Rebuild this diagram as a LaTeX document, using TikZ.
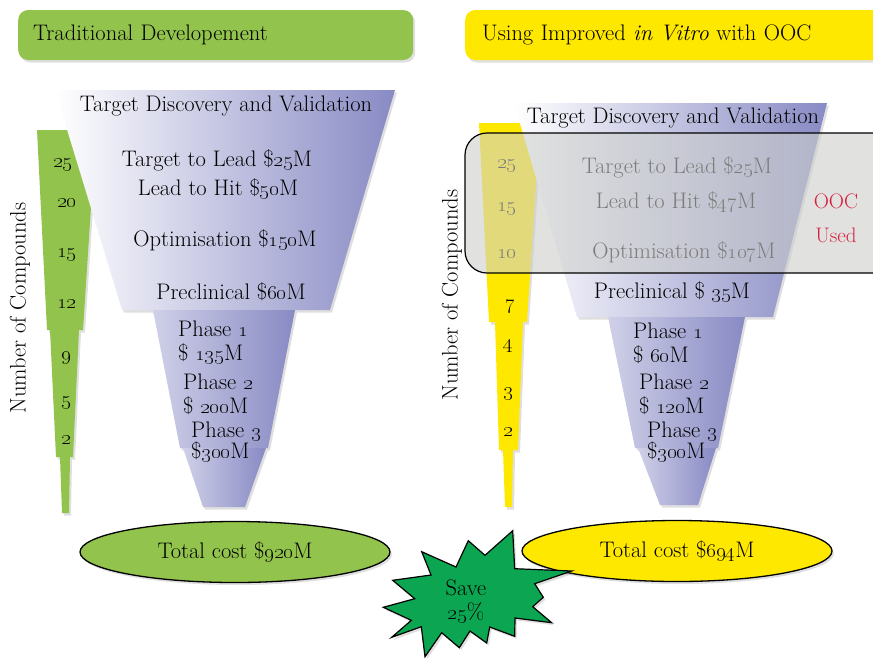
\documentclass[tikz,border=0pt]{standalone}
\usepackage{tikz}
\usetikzlibrary{shapes,shadows,positioning}
\definecolor{leafgreen}{RGB}{146,195,76}
\definecolor{brightyellow}{RGB}{255,232,0}
\definecolor{funnelblue}{RGB}{136,138,196}
\definecolor{stargreen}{RGB}{12,166,82}
\definecolor{oocred}{RGB}{214,32,64}
\definecolor{boxgray}{RGB}{205,207,204}

\begin{document}
\begin{tikzpicture}[x=1pt,y=-1pt]
    % Define styles
    \tikzstyle{softshadow} = [drop shadow={shadow xshift=2pt, shadow yshift=-2.5pt, opacity=0.25}]
    \tikzstyle{header} = [rectangle, rounded corners=10pt, minimum height=50pt, inner xsep=15pt, align=left, anchor=west, font=\fontsize{22.5}{26}\selectfont, softshadow]
    \tikzstyle{txt} = [font=\fontsize{22.5}{24}\selectfont, inner sep=0pt]
    \tikzstyle{count} = [font=\fontsize{20.74}{24}\selectfont, inner sep=0pt]
    \tikzstyle{bar} = [softshadow]
    \tikzstyle{funnel} = [right color=funnelblue, softshadow]
    \tikzstyle{total} = [ellipse, draw, line width=1.3pt, minimum width=310pt, minimum height=61pt, font=\fontsize{22.5}{26}\selectfont, softshadow]
    \tikzstyle{burst} = [draw, line width=1.2pt, fill=stargreen, line join=miter, softshadow]

    \useasboundingbox (0,0) rectangle (873,657);
    \clip (0,0) rectangle (873,657);

    % Headers
    \node[header, fill=leafgreen, text width=365pt] (lefthead) at (18,35) {Traditional Developement};
    \node[header, fill=brightyellow, text width=440pt, inner xsep=17pt] (righthead) at (465,35) {Using Improved \textit{in Vitro} with OOC};

    % Compound bars
    \path[bar, fill=leafgreen] (37,130) -- (96,130) -- (83,330) -- (47,330) -- cycle;
    \path[bar, fill=leafgreen] (50,330) -- (79,330) -- (73,457) -- (56,457) -- cycle;
    \path[bar, fill=leafgreen] (60,457) -- (70,457) -- (69,513) -- (62,513) -- cycle;
    \path[bar, fill=brightyellow] (479,123) -- (540,123) -- (527,322) -- (489,322) -- cycle;
    \path[bar, fill=brightyellow] (495,322) -- (523,322) -- (518,450) -- (499,450) -- cycle;
    \path[bar, fill=brightyellow] (503,450) -- (513,450) -- (512,507) -- (505,507) -- cycle;

    % Funnels
    \path[funnel, left color=white] (55,90) -- (395,90) -- (330,310) -- (122,310) -- cycle;
    \path[funnel, left color=funnelblue!40] (153,310) -- (295,310) -- (268,448) -- (180,448) -- cycle;
    \path[funnel, left color=funnelblue!40] (183,448) -- (266,448) -- (245,507) -- (203,507) -- cycle;
    \path[funnel, left color=white] (514,103) -- (827,103) -- (773,317) -- (577,317) -- cycle;
    \path[funnel, left color=funnelblue!40] (608,317) -- (745,317) -- (718,448) -- (635,448) -- cycle;
    \path[funnel, left color=funnelblue!40] (638,448) -- (716,448) -- (698,505) -- (660,505) -- cycle;

    % Axis titles
    \node[txt, rotate=90] (leftaxis) at (20,308) {Number of Compounds};
    \node[txt, rotate=90] (rightaxis) at (452,295) {Number of Compounds};

    % Compound counts
    \node[count] (lc25) at (63,165) {\oldstylenums{25}};
    \node[count] (lc20) at (67,203) {\oldstylenums{20}};
    \node[count] (lc15) at (67,255) {\oldstylenums{15}};
    \node[count] (lc12) at (67,304) {\oldstylenums{12}};
    \node[count] (lc9) at (66,358) {\oldstylenums{9}};
    \node[count] (lc5) at (66,403) {\oldstylenums{5}};
    \node[count] (lc2) at (66,440) {\oldstylenums{2}};
    \node[count] (rc25) at (507,166) {\oldstylenums{25}};
    \node[count] (rc15) at (507,209) {\oldstylenums{15}};
    \node[count] (rc10) at (507,254) {\oldstylenums{10}};
    \node[count] (rc7) at (510,307) {\oldstylenums{7}};
    \node[count] (rc4) at (508,346) {\oldstylenums{4}};
    \node[count] (rc3) at (508,394) {\oldstylenums{3}};
    \node[count] (rc2) at (508,432) {\oldstylenums{2}};

    % Left stages
    \node[txt] (leftdisc) at (226,106) {Target Discovery and Validation};
    \node[txt] (leftlead) at (217,160) {Target to Lead \$\oldstylenums{25}M};
    \node[txt] (lefthit) at (218,189) {Lead to Hit \$\oldstylenums{50}M};
    \node[txt] (leftopt) at (225,240) {Optimisation \$\oldstylenums{150}M};
    \node[txt] (leftpre) at (231,292) {Preclinical \$\oldstylenums{60}M};
    \node[txt, anchor=west, align=left] (leftph1) at (178,343) {Phase \oldstylenums{1}\\\$ \oldstylenums{135}M};
    \node[txt, anchor=west, align=left] (leftph2) at (183,394) {Phase \oldstylenums{2}\\\$ \oldstylenums{200}M};
    \node[txt, anchor=west, align=left, font=\fontsize{22.5}{21}\selectfont] (leftph3) at (191,442.5) {Phase \oldstylenums{3}\\\$\oldstylenums{300}M};

    % Right stages
    \node[txt] (rightdisc) at (673,118) {Target Discovery and Validation};
    \node[txt] (rightlead) at (677,167) {Target to Lead \$\oldstylenums{25}M};
    \node[txt] (righthit) at (676,202) {Lead to Hit \$\oldstylenums{47}M};
    \node[txt] (rightopt) at (684,252) {Optimisation \$\oldstylenums{107}M};
    \node[txt] (rightpre) at (672,292) {Preclinical \$ \oldstylenums{35}M};
    \node[txt, anchor=west, align=left] (rightph1) at (633,343) {Phase \oldstylenums{1}\\\$ \oldstylenums{60}M};
    \node[txt, anchor=west, align=left] (rightph2) at (639,394.5) {Phase \oldstylenums{2}\\\$ \oldstylenums{120}M};
    \node[txt, anchor=west, align=left, font=\fontsize{22.5}{21}\selectfont] (rightph3) at (647,442.5) {Phase \oldstylenums{3}\\\$\oldstylenums{300}M};

    % OOC overlay
    \draw[line width=1.2pt, rounded corners=22pt, fill=boxgray, fill opacity=0.6] (465,133) rectangle (905,273);
    \node[txt, text=oocred, align=center, font=\fontsize{21}{34}\selectfont] (oocnote) at (836,218) {OOC\\Used};

    % Totals
    \node[total, fill=leafgreen] (leftcost) at (235,552) {Total cost \$\oldstylenums{920}M};
    \node[total, fill=brightyellow] (rightcost) at (677,551) {Total cost \$\oldstylenums{694}M};

    % Saving
    \draw[burst] (512.7,530.7) -- (514.7,568.7) -- (571.7,571) -- (534.7,583.7) -- (543.3,597.3) -- (532.7,606.7)
        -- (551.7,622.7) -- (515,618) -- (514.7,636.3) -- (489.7,627) -- (486.7,643) -- (470,631)
        -- (459.3,647.7) -- (441.7,632.7) -- (425,656.7) -- (421.3,626.7) -- (391.7,637.3) -- (411.3,620.3)
        -- (383.3,607.3) -- (414.7,598.7) -- (392.7,580.3) -- (431,575) -- (421.7,551.7) -- (456,567)
        -- (468.3,540.7) -- (485,555.3) -- cycle;
    \node[txt, align=center] (save) at (466,602) {Save\\\oldstylenums{25}\%};

\end{tikzpicture}
\end{document}
